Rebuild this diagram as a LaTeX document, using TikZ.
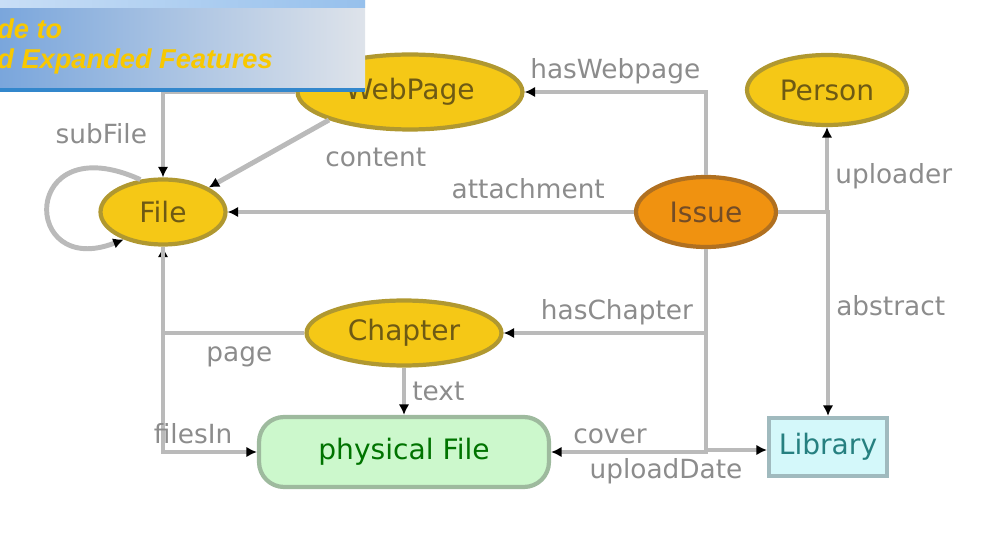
\documentclass[tikz,border=0pt]{standalone}
\usepackage{fontspec}
\setmainfont{DejaVu Sans}
\newfontfamily\headfont{Liberation Sans}
\usepackage{tikz}
\usetikzlibrary{positioning, shapes.geometric, arrows.meta, calc}
\definecolor{edgegray}{RGB}{186,186,186}
\definecolor{lblgray}{RGB}{140,140,140}
\definecolor{entfill}{RGB}{245,200,22}
\definecolor{entdraw}{RGB}{176,152,48}
\definecolor{entext}{RGB}{110,90,20}
\definecolor{issuefill}{RGB}{240,146,16}
\definecolor{issuedraw}{RGB}{176,112,32}
\definecolor{pfill}{RGB}{204,248,204}
\definecolor{pdraw}{RGB}{158,186,158}
\definecolor{libfill}{RGB}{212,248,250}
\definecolor{libdraw}{RGB}{160,186,190}
\definecolor{headyellow}{RGB}{248,200,0}
\tikzstyle{entity} = [ellipse, inner sep=0pt, fill=entfill, draw=entdraw, line width=2.4pt, text=entext]
\tikzstyle{issue} = [ellipse, inner sep=0pt, minimum width=2.8cm, minimum height=1.4cm, fill=issuefill, draw=issuedraw, line width=2.4pt, text=brown!60!black]
\tikzstyle{physical} = [rectangle, rounded corners=0.5cm, minimum width=5.8cm, minimum height=1.4cm, fill=pfill, draw=pdraw, line width=2.4pt, text=green!45!black]
\tikzstyle{store} = [rectangle, minimum width=2.36cm, minimum height=1.16cm, fill=libfill, draw=libdraw, line width=2.4pt, text=teal!70!gray]
\tikzstyle{arrow} = [-{Latex[length=6pt,width=6pt,color=black]}, line width=2.8pt, draw=edgegray]
\tikzstyle{lbl} = [text=lblgray, font=\fontsize{15}{18}\selectfont]
\tikzstyle{headtext} = [text=headyellow, font=\headfont\bfseries\itshape\fontsize{15.5}{18}\selectfont, inner sep=0pt]

\begin{document}
\begin{tikzpicture}[x=0.02cm, y=-0.02cm, font=\fontsize{16}{19}\selectfont]
  \useasboundingbox (0,0) rectangle (1001,540);
  %实体
  \node (webpage) [entity, minimum width=4.5cm, minimum height=1.5cm] at (410,92) {WebPage};
  \node (person) [entity, minimum width=3.2cm, minimum height=1.4cm] at (827,90) {Person};
  \node (file) [entity, minimum width=2.5cm, minimum height=1.3cm] at (163,212) {File};
  \node (issue) [issue] at (706,212) {Issue};
  \node (chapter) [entity, minimum width=3.9cm, minimum height=1.3cm] at (404,333) {Chapter};
  \node (pfile) [physical] at (404,452) {physical File};
  \node (library) [store] at (828,447) {Library};

  %连线
  \draw [arrow](issue.north) |- node[lbl, pos=0.75, above] {hasWebpage} (webpage.east);
  \draw [arrow](webpage.south west) -- node[lbl, pos=0.1, below right, yshift=-0.25cm] {content} (file.north east);
  \draw [arrow](webpage.west) -| (file.north);
  \draw [arrow](file.125) .. controls (20,125) and (20,280) .. node[lbl, pos=0, above left, xshift=0.3cm, yshift=0.55cm] {subFile} (file.215);
  \draw [arrow](issue.west) -- node[lbl, pos=0.26, above, yshift=0.1cm] {attachment} (file.east);
  \draw [arrow](issue.east) -| node[lbl, pos=0.71, right] {uploader} (person.south);
  \draw [arrow](issue.east) -| node[lbl, pos=0.73, right] {abstract} (library.north);
  \draw [arrow](issue.south) |- node[lbl, pos=0.72, above] {hasChapter} (chapter.east);
  \draw [arrow](chapter.west) -| node[lbl, pos=0.23, below, yshift=-0.1cm] {page} (file.south);
  \draw [arrow](file.south) |- node[lbl, pos=0.66, above] {filesIn} (pfile.west);
  \draw [arrow](chapter.south) -- node[lbl, right] {text} (pfile.north);
  \draw [arrow](issue.south) |- node[lbl, pos=0.81, above] {cover} (pfile.east);
  \draw [arrow](issue.south) |- node[lbl, pos=0.5, below, xshift=-0.8cm] {uploadDate} ($(library.west)+(0,3)$);

  %标题栏
  \shade [left color={rgb,255:red,122;green,166;blue,220}, right color={rgb,255:red,222;green,227;blue,234}] (0,0) rectangle (365,92);
  \shade [left color={rgb,255:red,200;green,222;blue,246}, right color={rgb,255:red,150;green,192;blue,236}] (0,0) rectangle (365,8);
  \fill [blue!45!cyan!60!gray] (0,88) rectangle (365,92);
  \node (head1) [headtext, anchor=west] at (-3,29) {de to};
  \node (head2) [headtext, anchor=west] at (-3,61) {d Expanded Features};
\end{tikzpicture}
\end{document}
